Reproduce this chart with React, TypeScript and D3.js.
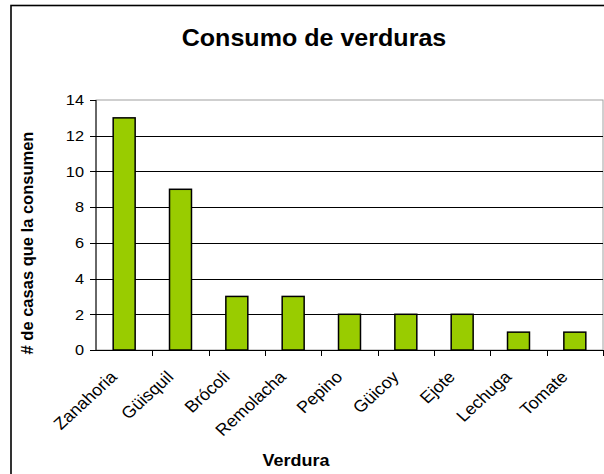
import React from "react";
import * as d3 from "d3";

const categories = ["Zanahoria", "Güisquil", "Brócoli", "Remolacha", "Pepino", "Güicoy", "Ejote", "Lechuga", "Tomate"];
const values = [13, 9, 3, 3, 2, 2, 2, 1, 1];
const yTicks = [0, 2, 4, 6, 8, 10, 12, 14];
const title = "Consumo de verduras";
const xTitle = "Verdura";
const yTitle = "# de casas que la consumen";

const W = 604;
const H = 474;
const left = 96;
const right = 603;
const top = 100;
const bottom = 350;
const font = "Liberation Sans, Arial, sans-serif";
const SX = 1.09;

export default function App() {
  const x = d3.scaleBand<string>().domain(categories).range([left, right]).paddingInner(0.61).paddingOuter(0.305);
  const y = d3.scaleLinear().domain([0, 14]).range([bottom, top]);
  const step = x.step();
  const bandStart = (i: number) => left + i * step;

  return (
    <svg width={W} height={H} style={{ position: "absolute", left: 0, top: 0 }} fontFamily={font}>
      <rect x={0} y={0} width={W} height={H} fill="#fff" />
      {/* outer frame */}
      <rect x={11} y={5.5} width={W + 20} height={H + 20} fill="none" stroke="#000" strokeWidth={1.6} />
      <text transform={`translate(314 46) scale(${SX} 1)`} textAnchor="middle" fontSize={23} fontWeight="bold">{title}</text>

      {/* plot border */}
      <rect x={left} y={top} width={right - left} height={bottom - top} fill="none" stroke="#a0a0a0" strokeWidth={1} />
      {/* gridlines */}
      {yTicks.filter((t) => t > 0 && t < 14).map((t) => (
        <line key={t} x1={left} x2={right} y1={Math.round(y(t)) + 0.5} y2={Math.round(y(t)) + 0.5} stroke="#000" strokeWidth={1} />
      ))}
      {/* bars */}
      {categories.map((c, i) => (
        <rect key={c} x={x(c)!} y={y(values[i])} width={x.bandwidth()} height={bottom - y(values[i])} fill="#99CC00" stroke="#000" strokeWidth={1.5} />
      ))}
      {/* y axis */}
      <line x1={left} x2={left} y1={top} y2={bottom} stroke="#000" strokeWidth={1} />
      {yTicks.map((t) => (
        <g key={t}>
          <line x1={left - 6} x2={left} y1={Math.round(y(t)) + 0.5} y2={Math.round(y(t)) + 0.5} stroke="#000" />
          <text transform={`translate(84 ${y(t)}) scale(${SX} 1)`} dy="0.35em" textAnchor="end" fontSize={15}>{t}</text>
        </g>
      ))}
      {/* x axis */}
      <line x1={left} x2={right} y1={bottom + 0.5} y2={bottom + 0.5} stroke="#000" strokeWidth={1} />
      {categories.map((c, i) => (
        <line key={"t" + c} x1={Math.round(bandStart(i + 1)) + 0.5} x2={Math.round(bandStart(i + 1)) + 0.5} y1={bottom} y2={bottom + 6} stroke="#000" />
      ))}
      {categories.map((c) => {
        const cx = x(c)! + x.bandwidth() / 2 - 6;
        const cy = 378;
        return (
          <text key={"l" + c} transform={`translate(${cx} ${cy}) scale(${SX} 1) rotate(-45)`} textAnchor="end" fontSize={16.5}>{c}</text>
        );
      })}
      <text transform={`translate(296 466) scale(${SX} 1)`} textAnchor="middle" fontSize={16.5} fontWeight="bold">{xTitle}</text>
      <text transform={`translate(33 243) rotate(-90)`} textAnchor="middle" fontSize={16.5} fontWeight="bold">{yTitle}</text>
    </svg>
  );
}
